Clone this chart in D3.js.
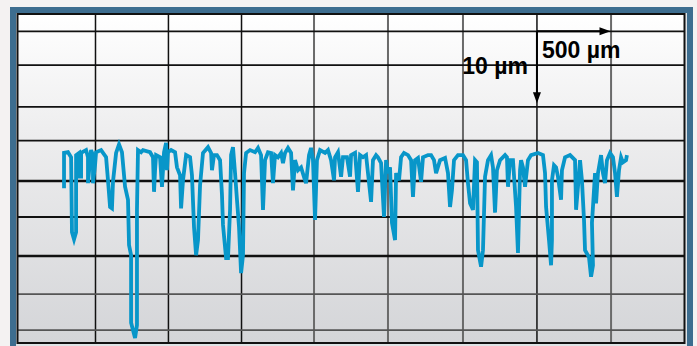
<!DOCTYPE html>
<html>
<head>
<meta charset="utf-8">
<script src="https://cdn.jsdelivr.net/npm/d3@7"></script>
<style>
  body { margin: 0; background: #f4f2f2; }
  svg { display: block; }
</style>
</head>
<body>
<div id="chart"></div>
<script>
// surface profile: position along the trace (µm) and height (µm, 0 = thick reference line)
const posUm = [
  0, 0, 27, 48, 54, 68, 82, 82, 102, 102, 116, 116, 150, 163, 163, 177, 184, 197, 197, 211,
  218, 252, 286, 299, 313, 326, 333, 354, 374, 394, 415, 435, 442, 456, 456, 483, 496, 496, 503,
  524, 537, 585, 605, 612, 619, 626, 653, 666, 673, 680, 694, 700, 707, 728, 755, 768, 789, 796,
  809, 830, 857, 870, 884, 898, 911, 925, 945, 979, 1000, 1006, 1020, 1040, 1061,
  1074, 1081, 1102, 1115, 1129, 1136, 1149, 1163, 1176, 1190, 1204, 1217, 1224, 1238, 1265, 1299,
  1319, 1340, 1353, 1367, 1387, 1408, 1421, 1435, 1455, 1476, 1489, 1503, 1523, 1544, 1557, 1571, 1591,
  1612, 1639, 1646, 1666, 1680, 1693, 1707, 1720, 1741, 1775, 1795, 1816, 1836, 1843, 1863, 1884,
  1897, 1924, 1945, 1952, 1979, 1999, 2013, 2033, 2054, 2067, 2088, 2101, 2122, 2135,
  2156, 2176, 2190, 2203, 2217, 2230, 2251, 2258, 2278, 2292, 2312, 2339, 2360, 2373, 2387, 2407,
  2428, 2441, 2475, 2496, 2516, 2530, 2557, 2591, 2611, 2625, 2638, 2652, 2679,
  2713, 2734, 2747, 2761, 2781, 2795, 2808, 2815, 2836, 2849, 2863, 2883, 2904, 2917, 2931, 2944,
  2965, 2999, 3012, 3019, 3033, 3053, 3074, 3087, 3101, 3108, 3121, 3135, 3155, 3176, 3223,
  3257, 3271, 3278, 3298, 3312, 3318, 3318, 3332, 3346, 3359, 3380, 3386, 3407, 3441, 3475, 3482,
  3495, 3509, 3522, 3536, 3543, 3570, 3584, 3597, 3590, 3597, 3611, 3618, 3631, 3652, 3665, 3679,
  3692, 3713, 3733, 3747, 3760, 3774, 3788, 3801, 3822, 3828
];
const heightUm = [
  -1.0, 3.9, 4.0, 3.3, -7.1, -8.1, -7.1, 3.6, 3.9, 0.6, 0.6, 3.9, 4.3, 3.3, -0.3, 2.9, 4.3, 3.6, -0.3, 2.2,
  4.0, 4.3, 3.3, 0.1, -3.6, -3.8, -0.1, 3.9, 5.1, 4.0, -0.8, -2.6, -8.9, -10.3, -19.7, -21.8, -20.0, -4.0, 4.3,
  4.0, 4.3, 4.0, 3.3, -1.5, 1.5, 3.6, 3.3, -0.8, 1.5, 4.0, 5.3, 1.5, 4.0, 4.3, 4.0, 1.9, 0.8, -3.8,
  0.1, 3.6, 3.3, 0.8, -6.4, -10.3, -8.2, -0.6, 3.9, 4.7, 3.9, 1.5, 3.6, 3.6, 2.9,
  -1.9, -6.1, -10.7, -10.7, -4.0, 3.6, 4.7, 1.1, -2.6, -6.4, -12.8, -10.3, 1.1, 3.9, 4.3, 4.0,
  4.6, 3.6, -4.0, 2.9, 4.0, 3.9, -0.3, 3.6, 3.3, 3.9, 2.5, 3.9, 4.6, 3.9, -1.3, 2.9, 1.5,
  1.9, 0.1, -0.3, 3.6, 4.6, 2.9, -5.4, 2.9, 4.3, 3.9, 4.3, 2.9, 0.1, 3.3, 4.0, 0.6,
  3.3, 3.3, 0.6, 3.6, 3.9, -1.5, 3.6, 3.3, 3.6, 1.1, -2.9, 2.9, 3.6, 3.3,
  2.5, -5.0, 2.9, 1.1, 1.9, -5.8, -8.2, 1.1, 0.1, 3.3, 3.9, 3.6, 2.9, -2.2, 2.9, 3.2,
  -0.1, 3.3, 3.6, 3.6, 2.9, 1.1, 2.9, 3.2, 1.1, -3.6, -1.3, 2.9, 3.6,
  3.6, 2.9, -0.3, -3.1, -4.0, 2.9, 2.6, -9.6, -11.9, -9.6, 0.6, 2.9, 3.6, 1.9, -4.4, 1.5,
  2.9, 3.6, 3.3, -0.8, 2.9, 2.9, -3.6, -10.0, 1.5, 2.9, 1.9, -0.8, 2.9, 3.6, 3.9,
  3.6, 1.1, -3.6, -8.2, -11.7, -8.2, 0.1, 2.2, 1.9, 0.6, -2.6, 1.5, 3.3, 3.6, 2.9, -4.0,
  -0.8, 2.9, 0.1, -5.4, -9.6, -10.6, -13.3, -11.7, -5.8, -3.6, 1.1, -3.1, 1.1, 3.6, 1.1, -0.3,
  2.9, 3.9, 3.3, 1.1, -2.2, 1.5, 3.3, 2.6, 2.9, 3.6
];

// grid positions (µm)
const gridXUm = [214, 710, 1207, 1700, 2203, 2713, 3216, 3720];
const gridYUm = [20.8, 16.1, 10.3, 5.6, 0, -5.0, -10.4, -15.7, -20.7];

// scale bar
const scaleBarOrigin = [3216, 20.8];
const scaleBarX = 500;
const scaleBarY = 10;
const labelX = "500 µm";
const labelY = "10 µm";

const W = 697, H = 346;
const plot = { left: 18, right: 684, top: 14, bottom: 343 };

const svg = d3.select('#chart').append('svg')
    .attr('width', W)
    .attr('height', H);

const defs = svg.append('defs');
const bg = defs.append('linearGradient')
    .attr('id', 'plotBg')
    .attr('x1', 0).attr('y1', 0).attr('x2', 0).attr('y2', 1);
bg.append('stop').attr('offset', '0%').attr('stop-color', '#ffffff');
bg.append('stop').attr('offset', '35%').attr('stop-color', '#eeeeef');
bg.append('stop').attr('offset', '100%').attr('stop-color', '#d4d5d8');

// blue frame
svg.append('rect')
    .attr('x', 10).attr('y', 7)
    .attr('width', 683).attr('height', 360)
    .attr('fill', '#3d6d8f');
svg.append('rect')
    .attr('x', 16).attr('y', 13)
    .attr('width', 671).attr('height', 360)
    .attr('fill', '#dfe3e6');

// scales
const x = d3.scaleLinear().domain([-313, 4216]).range([plot.left, plot.right]);
const y = d3.scaleLinear().domain([-22.5, 23.2]).range([plot.bottom, plot.top]);

svg.append('rect')
    .attr('x', plot.left).attr('y', plot.top)
    .attr('width', plot.right - plot.left)
    .attr('height', plot.bottom - plot.top)
    .attr('fill', 'url(#plotBg)');

// grid
const greyX = new Set([3, 4, 5, 7]);
svg.append('g').selectAll('line')
    .data(gridXUm)
    .join('line')
    .attr('x1', d => x(d)).attr('x2', d => x(d))
    .attr('y1', plot.top).attr('y2', plot.bottom)
    .attr('stroke', (d, i) => greyX.has(i) ? '#6a6a6a' : '#111')
    .attr('stroke-width', (d, i) => greyX.has(i) ? 2 : 1.5);

const thickY = new Set([4, 6]);
const greyY = new Set([7, 8]);
svg.append('g').selectAll('line')
    .data(gridYUm)
    .join('line')
    .attr('x1', plot.left).attr('x2', plot.right)
    .attr('y1', d => y(d)).attr('y2', d => y(d))
    .attr('stroke', (d, i) => greyY.has(i) ? '#555' : '#111')
    .attr('stroke-width', (d, i) => thickY.has(i) ? 2.5 : 1.8);

// plot border
svg.append('rect')
    .attr('x', plot.left - 0.5).attr('y', plot.top)
    .attr('width', plot.right - plot.left + 1)
    .attr('height', plot.bottom - plot.top)
    .attr('fill', 'none')
    .attr('stroke', '#111')
    .attr('stroke-width', 2);

// profile trace
const profile = posUm.map((p, i) => [p, heightUm[i]]);
const line = d3.line()
    .x(d => x(d[0]))
    .y(d => y(d[1]));

svg.append('path')
    .datum(profile)
    .attr('d', line)
    .attr('fill', 'none')
    .attr('stroke', '#0896c9')
    .attr('stroke-width', 3.8)
    .attr('stroke-linejoin', 'miter')
    .attr('stroke-miterlimit', 4);

// scale bar arrows
const ox = x(scaleBarOrigin[0]), oy = y(scaleBarOrigin[1]);
const ex = x(scaleBarOrigin[0] + scaleBarX);
const ey = y(scaleBarOrigin[1] - scaleBarY);
const bar = svg.append('g');
bar.append('line')
    .attr('x1', ox).attr('y1', oy).attr('x2', ex - 8).attr('y2', oy)
    .attr('stroke', '#000').attr('stroke-width', 2);
bar.append('path')
    .attr('d', `M${ex},${oy} L${ex - 11},${oy - 4} L${ex - 11},${oy + 4} Z`)
    .attr('fill', '#000');
bar.append('line')
    .attr('x1', ox).attr('y1', oy).attr('x2', ox).attr('y2', ey - 8)
    .attr('stroke', '#000').attr('stroke-width', 2);
bar.append('path')
    .attr('d', `M${ox},${ey} L${ox - 4},${ey - 11} L${ox + 4},${ey - 11} Z`)
    .attr('fill', '#000');

bar.append('text')
    .attr('x', ox + 5).attr('y', oy + 27)
    .attr('font-family', 'Liberation Sans, Arial, sans-serif')
    .attr('font-weight', 'bold')
    .attr('font-size', 23)
    .attr('fill', '#000')
    .text(labelX);
bar.append('text')
    .attr('x', ox - 9).attr('y', oy + 43)
    .attr('text-anchor', 'end')
    .attr('font-family', 'Liberation Sans, Arial, sans-serif')
    .attr('font-weight', 'bold')
    .attr('font-size', 23)
    .attr('fill', '#000')
    .text(labelY);
</script>
</body>
</html>
